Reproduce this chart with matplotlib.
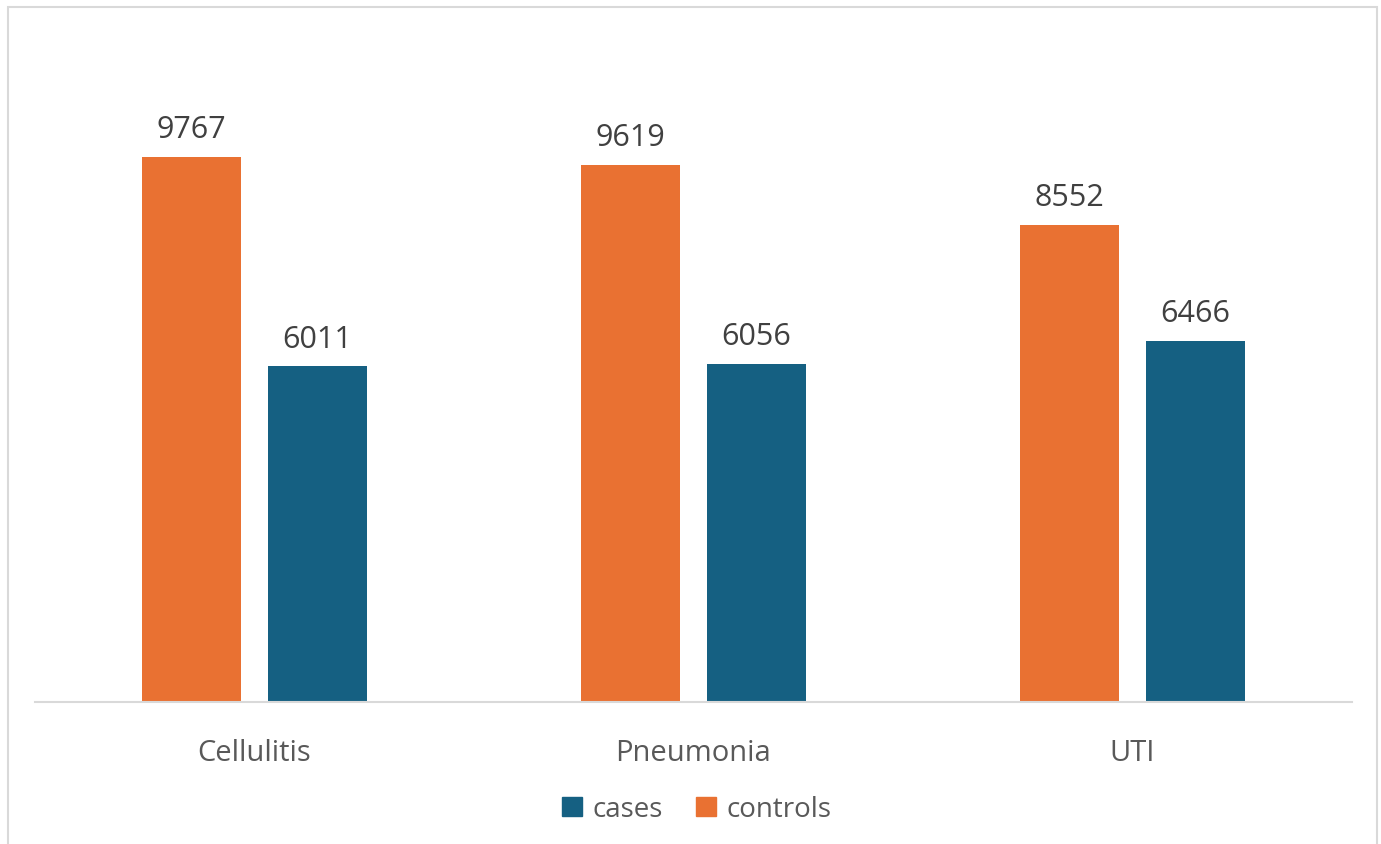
import numpy as np
import matplotlib
matplotlib.use("Agg")
import matplotlib.pyplot as plt
from matplotlib.patches import Rectangle, Patch

# ---------- dados ----------
categories = ["Cellulitis", "Pneumonia", "UTI"]
controls = [9767, 9619, 8552]
cases = [6011, 6056, 6466]

C_CASES = "#156082"
C_CONTROLS = "#E97132"
TXT = "#404040"

plt.rcParams["font.family"] = ["Open Sans", "DejaVu Sans"]

W, H = 1381, 845
fig = plt.figure(figsize=(W / 100, H / 100), dpi=100)
fig.patch.set_facecolor("white")
# moldura cinza clara do gráfico
fig.patches.append(Rectangle((8 / W, -0.05), (1377 - 8) / W, (H - 8) / H + 0.05,
                             transform=fig.transFigure, fill=False,
                             edgecolor="#D9D9D9", lw=1.5))

ax = fig.add_axes([35 / W, (H - 703) / H, (1352 - 35) / W, (703 - 33) / H])
x = np.arange(len(categories))
bw = 0.224
off = 0.1435
b1 = ax.bar(x - off, controls, bw, color=C_CONTROLS, label="controls")
b2 = ax.bar(x + off, cases, bw, color=C_CASES, label="cases")
for bars in (b1, b2):
    ax.bar_label(bars, labels=[f"{v}" for v in bars.datavalues], padding=9,
                 fontsize=22, color=TXT)

ax.set_xlim(-0.5, len(categories) - 0.5)
ax.set_ylim(0, 12000)
ax.set_xticks(x)
ax.set_xticklabels(categories, fontsize=21, color="#595959")
ax.tick_params(axis="x", length=0, pad=26)
ax.set_yticks([])
for s in ("top", "right", "left"):
    ax.spines[s].set_visible(False)
ax.spines["bottom"].set_color("#D9D9D9")
ax.spines["bottom"].set_linewidth(1.5)

handles = [Patch(color=C_CASES, label="cases"), Patch(color=C_CONTROLS, label="controls")]
fig.legend(handles=handles, loc="center", bbox_to_anchor=(697 / W, 1 - 810 / H),
           ncol=2, frameon=False, fontsize=20, labelcolor="#595959",
           handlelength=0.7, handleheight=0.7, handletextpad=0.4, columnspacing=1.2)

fig.savefig("out.png", dpi=100, facecolor="white")
